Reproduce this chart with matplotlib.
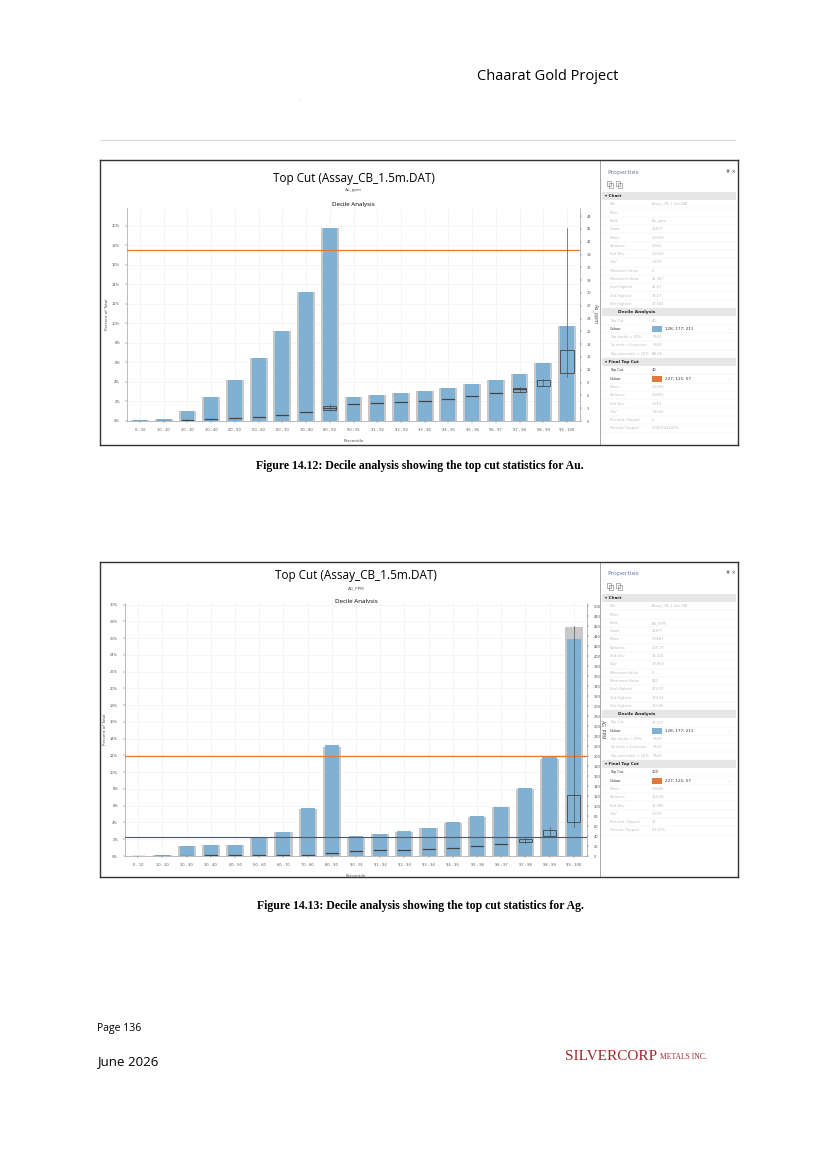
import numpy as np
import matplotlib
matplotlib.use("Agg")
import matplotlib.pyplot as plt
from matplotlib.patches import Rectangle

W, H = 825, 1168
BLUE = (128/255, 177/255, 211/255)
ORANGE = (227/255, 121/255, 57/255)
GRAY = "#c8c8c8"
TXT = "#bdbdbd"

labels = ["0 - 10", "10 - 20", "20 - 30", "30 - 40", "40 - 50", "50 - 60", "60 - 70",
          "70 - 80", "80 - 90", "90 - 91", "91 - 92", "92 - 93", "93 - 94", "94 - 95",
          "95 - 96", "96 - 97", "97 - 98", "98 - 99", "99 - 100"]

charts = [
    dict(box=(100, 160, 638, 285), plot=(127, 208, 580, 421), field="Au_ppm", yname="Au_ppm",
         blue=[0.1, 0.2, 1.05, 2.45, 4.2, 6.45, 9.25, 13.2, 19.75, 2.5, 2.7, 2.9, 3.1, 3.35, 3.75, 4.15, 4.85, 5.9, 9.7],
         gray=[0.1, 0.2, 1.05, 2.45, 4.2, 6.45, 9.25, 13.2, 19.75, 2.5, 2.7, 2.9, 3.1, 3.35, 3.75, 4.15, 4.85, 5.9, 9.7],
         med=[0.05, 0.1, 0.3, 0.5, 0.8, 1.0, 1.4, 2.2, 3.05, 4.0, 4.2, 4.5, 4.8, 5.2, 5.8, 6.5, 7.4],
         boxes=[(8, 2.6, 3.5, 2.5, 3.9), (16, 6.9, 7.7, 6.8, 7.9), (17, 8.3, 9.6, 8.1, 9.9), (18, 11.2, 16.7, 10.4, 45.2)],
         ylim=21.8, yticks=np.arange(0, 21, 2), rlim=49.9, rticks=np.arange(0, 49, 3),
         topcut=40, hline=None,
         props=[("File", "Assay_CB_1.5m.DAT"), ("Filter", ""), ("Field", "Au_ppm"), ("Count", "21877"),
                ("Mean", "1.5049"), ("Variance", "4.954"), ("Std Dev", "2.2258"), ("COV", "1.479"),
                ("Minimum Value", "0"), ("Maximum Value", "45.387"), ("2nd Highest", "42.67"),
                ("3rd Highest", "38.17"), ("4th Highest", "37.643")],
         dec=[("Top Cut", "40"), ("Top decile > 40%", "TRUE"), ("Top decile > 2x previous", "TRUE"),
              ("Top percentile > 10%", "FALSE")],
         fin=[("Top Cut", "40"), ("Mean", "1.5045"), ("Variance", "4.9241"), ("Std Dev", "2.219"),
              ("COV", "1.4749"), ("Records Clipped", "2"), ("Percent Clipped", "0.009142202%")],
         caption="Figure 14.12: Decile analysis showing the top cut statistics for Au.", cap_y=466),
    dict(box=(100, 562, 638, 315), plot=(125, 603, 587, 856), field="AG_PPM", yname="AG_PPM",
         blue=[0.05, 0.1, 1.2, 1.3, 1.3, 2.3, 2.9, 5.7, 13.3, 2.4, 2.6, 3.0, 3.4, 4.0, 4.8, 5.9, 8.1, 11.8, 25.9],
         gray=[0.05, 0.1, 1.2, 1.3, 1.3, 2.3, 2.9, 5.6, 13.0, 2.3, 2.6, 2.9, 3.3, 3.9, 4.7, 5.8, 8.0, 11.6, 27.3],
         med=[0.3, 0.5, 1.0, 1.2, 1.3, 1.5, 1.8, 2.7, 5.4, 9.4, 11.4, 12.7, 14.7, 16.8, 19.4, 24.0],
         boxes=[(16, 28, 35, 26, 37), (17, 41, 52, 39, 58), (18, 68, 122, 59, 461)],
         ylim=30.2, yticks=np.arange(0, 31, 2), rlim=506, rticks=np.arange(0, 501, 20),
         topcut=200, hline=37.2,
         props=[("File", "Assay_CB_1.5m.DAT"), ("Filter", ""), ("Field", "AG_PPM"), ("Count", "21877"),
                ("Mean", "3.9667"), ("Variance", "205.17"), ("Std Dev", "14.324"), ("COV", "3.5908"),
                ("Minimum Value", "0"), ("Maximum Value", "460"), ("2nd Highest", "412.97"),
                ("3rd Highest", "372.94"), ("4th Highest", "363.86")],
         dec=[("Top Cut", "37.217"), ("Top decile > 40%", "TRUE"), ("Top decile > 2x previous", "TRUE"),
              ("Top percentile > 10%", "TRUE")],
         fin=[("Top Cut", "200"), ("Mean", "3.8686"), ("Variance", "150.46"), ("Std Dev", "12.389"),
              ("COV", "3.229"), ("Records Clipped", "24"), ("Percent Clipped", "0.110%")],
         caption="Figure 14.13: Decile analysis showing the top cut statistics for Ag.", cap_y=906),
]


def fr(x, y, w, h):
    return [x / W, 1 - (y + h) / H, w / W, h / H]


fig = plt.figure(figsize=(W / 100, H / 100), dpi=100)
fig.patch.set_facecolor("white")

# page header / footer
fig.text(548 / W, 1 - 77 / H, "Chaarat Gold Project", ha="center", va="center", fontsize=10.5,
         family="Open Sans")
fig.text(300 / W, 1 - 101 / H, ".", fontsize=3, ha="center")
fig.add_artist(plt.Line2D([100 / W, 735 / W], [1 - 140 / H] * 2, color="#d8d8d8", lw=0.7))
fig.text(97 / W, 1 - 1028 / H, "Page 136", fontsize=7.5, va="center", family="Open Sans")
fig.text(97 / W, 1 - 1062 / H, "June 2026", fontsize=9.5, va="center", family="Open Sans")
fig.text(565 / W, 1 - 1056 / H, "SILVERCORP", fontsize=11, va="center", family="Liberation Serif",
         color="#a3282c")
fig.text(660 / W, 1 - 1057 / H, "METALS INC.", fontsize=5.5, va="center", family="Liberation Serif",
         color="#a3282c")

for c in charts:
    bx, by, bw, bh = c["box"]
    frame = fig.add_axes(fr(bx, by, bw, bh))
    frame.set_xlim(0, bw)
    frame.set_ylim(bh, 0)
    frame.set_xticks([])
    frame.set_yticks([])
    for s in frame.spines.values():
        s.set_linewidth(1.0)
        s.set_color("#333333")

    px0, py0, px1, py1 = c["plot"]
    cx = (px0 + px1) / 2 - bx
    frame.text(cx, 18 if bh < 300 else 13, "Top Cut (Assay_CB_1.5m.DAT)", ha="center", va="center",
               fontsize=8.5, family="Open Sans")
    frame.text(cx, 30 if bh < 300 else 26, c["field"], ha="center", va="center", fontsize=3, color="#555")
    frame.text(cx, 44 if bh < 300 else 40, "Decile Analysis", ha="center", va="center", fontsize=4.5,
               family="Open Sans")
    frame.text(cx, py1 - by + 20, "Percentile", ha="center", va="center", fontsize=3, color="#555")
    frame.text(px0 - bx - 20, (py0 + py1) / 2 - by, "Percent of Total", rotation=90, ha="center",
               va="center", fontsize=3, color="#555")
    frame.text(px1 - bx + 16, (py0 + py1) / 2 - by, c["yname"], rotation=270, ha="center", va="center",
               fontsize=3.5, color="#555")

    # properties panel
    p0 = 500
    frame.plot([p0, p0], [0, bh], color="#999", lw=0.6)
    frame.text(p0 + 7, 12, "Properties", fontsize=4.5, color="#6a7fa8", va="center")
    frame.text(bw - 12, 11, "# ×", fontsize=3.5, color="#444", va="center")
    for ix in (p0 + 7, p0 + 16):
        frame.add_patch(Rectangle((ix, 21), 4, 5, fill=False, ec="#777", lw=0.4))
        frame.add_patch(Rectangle((ix + 1.5, 22.5), 4, 5, fill=False, ec="#777", lw=0.4))
    y = 36
    rh = 8.3

    def section(name, y):
        frame.add_patch(Rectangle((p0 + 2, y - rh / 2), bw - p0 - 4, rh, color="#e6e6e6", lw=0))
        frame.text(p0 + 5, y, "▾ " + name, fontsize=3, fontweight="bold", va="center", color="#222")
        return y + rh

    def row(k, v, y, dark=False, colour=None):
        col = "#333" if dark else TXT
        frame.text(p0 + 10, y, k, fontsize=2.6 if len(k) < 22 else 2.2, va="center", color=col)
        if colour is not None:
            frame.add_patch(Rectangle((p0 + 52, y - 3), 10, 6, color=colour, lw=0))
            frame.text(p0 + 65, y, v, fontsize=3, va="center", color="#333")
            frame.text(bw - 10, y, "...", fontsize=3, va="center", color="#888")
        else:
            frame.text(p0 + 52, y, v, fontsize=2.6, va="center", color=col)
        frame.plot([p0 + 2, bw - 2], [y + rh / 2] * 2, color="#eeeeee", lw=0.3)
        return y + rh

    y = section("Chart", y)
    for k, v in c["props"]:
        y = row(k, v, y)
    frame.add_patch(Rectangle((p0 + 2, y - rh / 2), bw - p0 - 4, rh, color="#e6e6e6", lw=0))
    frame.text(p0 + 18, y, "Decile Analysis", fontsize=3.2, fontweight="bold", va="center", color="#222")
    y += rh
    y = row(*c["dec"][0], y)
    y = row("Colour", "128; 177; 211", y, dark=True, colour=BLUE)
    for k, v in c["dec"][1:]:
        y = row(k, v, y)
    y = section("Final Top Cut", y)
    y = row(*c["fin"][0], y, dark=True)
    y = row("Colour", "227; 121; 57", y, dark=True, colour=ORANGE)
    for k, v in c["fin"][1:]:
        y = row(k, v, y)

    # main plot
    ax = fig.add_axes(fr(px0, py0, px1 - px0, py1 - py0))
    x = np.arange(len(labels))
    ax.bar(x, c["gray"], width=0.75, color=GRAY, zorder=2)
    ax.bar(x, c["blue"], width=0.58, color=BLUE, zorder=3)
    ax.set_xlim(-0.55, len(labels) - 0.45)
    ax.set_ylim(0, c["ylim"])
    ax.set_yticks(c["yticks"])
    ax.set_yticklabels([f"{int(t)}%" for t in c["yticks"]])
    ax.set_xticks(x)
    ax.set_xticklabels(labels)
    ax.tick_params(labelsize=2.6, length=1.5, width=0.3, colors="#555")
    ax.grid(True, color="#eeeeee", lw=0.4, zorder=0)
    for s in ["top", "right"]:
        ax.spines[s].set_visible(False)
    for s in ["left", "bottom"]:
        ax.spines[s].set_linewidth(0.4)
        ax.spines[s].set_color("#888")

    ax2 = ax.twinx()
    ax2.set_ylim(0, c["rlim"])
    ax2.set_yticks(c["rticks"])
    ax2.tick_params(labelsize=2.6, length=1.5, width=0.3, colors="#555")
    for s in ["top", "left", "bottom"]:
        ax2.spines[s].set_visible(False)
    ax2.spines["right"].set_linewidth(0.4)
    ax2.spines["right"].set_color("#888")
    ax2.axhline(c["topcut"], color=ORANGE, lw=0.9, zorder=5)
    if c["hline"] is not None:
        ax2.axhline(c["hline"], color="#4a5a6a", lw=0.8, zorder=5)
    for i, m in enumerate(c["med"]):
        ax2.plot([i - 0.25, i + 0.25], [m, m], color="#444", lw=0.9, zorder=6)
    for i, q1, q3, lo, hi in c["boxes"]:
        ax2.plot([i, i], [lo, hi], color="#555", lw=0.5, zorder=6)
        ax2.add_patch(Rectangle((i - 0.28, q1), 0.56, q3 - q1, fill=False, ec="#444", lw=0.6, zorder=7))
        ax2.add_patch(Rectangle((i - 0.28, q1), 0.56, q3 - q1, fc=BLUE, ec="none", zorder=5.5))

    fig.text(420 / W, 1 - c["cap_y"] / H, c["caption"], ha="center", va="center", fontsize=8.5,
             fontweight="bold", family="Liberation Serif")

fig.savefig("out.png", dpi=100)
